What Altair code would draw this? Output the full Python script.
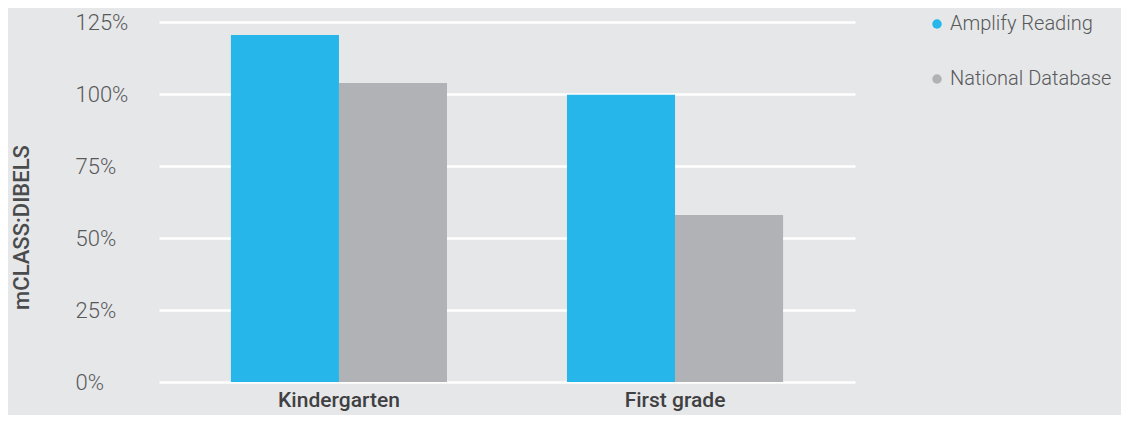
import altair as alt
import pandas as pd

grades = ["Kindergarten", "First grade"]
series = ["Amplify Reading", "National Database"]
amplify = [120.5, 99.7]
national = [103.8, 58.0]
colors = ["#27b6e9", "#b1b2b5"]
y_ticks = [0, 25, 50, 75, 100, 125]

rows = []
for g, a, n in zip(grades, amplify, national):
    rows.append({"grade": g, "series": series[0], "value": a})
    rows.append({"grade": g, "series": series[1], "value": n})
df = pd.DataFrame(rows)

FONT = "Roboto"

chart = alt.Chart(df).mark_bar().encode(
    x=alt.X(
        "grade:N",
        sort=grades,
        scale=alt.Scale(paddingInner=0.357, paddingOuter=0.214),
        axis=alt.Axis(
            title=None, labelAngle=0, ticks=False, domain=False, grid=False,
            labelFont=FONT, labelFontSize=21, labelFontWeight=500,
            labelColor="#3f4042", labelPadding=7, labelBaseline="top",
        ),
    ),
    xOffset=alt.XOffset(
        "series:N", sort=series,
        scale=alt.Scale(domain=series, paddingInner=0, paddingOuter=0),
    ),
    y=alt.Y(
        "value:Q",
        scale=alt.Scale(domain=[0, 125], nice=False),
        axis=alt.Axis(
            values=y_ticks, labelExpr="datum.value + '%'",
            title="mCLASS:DIBELS", titleFont=FONT, titleFontSize=22,
            titleFontWeight=500, titleColor="#4a4b4d",
            titleX=-138, titleY=205, titleAngle=-90, titleAlign="center",
            titleBaseline="middle",
            ticks=False, tickSize=0, domain=False,
            grid=True, gridColor="#ffffff", gridWidth=2.6, gridOpacity=1,
            labelFont=FONT, labelFontSize=22, labelFontWeight=300,
            labelColor="#58595b", labelAlign="left", labelPadding=84,
            labelBaseline="middle",
        ),
    ),
    color=alt.Color(
        "series:N", sort=series,
        scale=alt.Scale(domain=series, range=colors),
        legend=alt.Legend(
            title=None, orient="none", legendX=768, legendY=-8,
            symbolType="circle", symbolSize=90, symbolStrokeWidth=0,
            symbolOpacity=1, labelFont=FONT, labelFontSize=20,
            labelFontWeight=300, labelColor="#58595b", rowPadding=35,
            labelOffset=3, padding=0, labelLimit=0,
        ),
    ),
).properties(
    width=696,
    height=360,
    padding={"left": 151, "top": 14, "right": 266, "bottom": 33},
    autosize=alt.AutoSizeParams(type="none"),
    background="#e6e7e8",
).configure_view(stroke=None)

chart.save("out.html", embed_options={"renderer": "svg", "actions": False})
